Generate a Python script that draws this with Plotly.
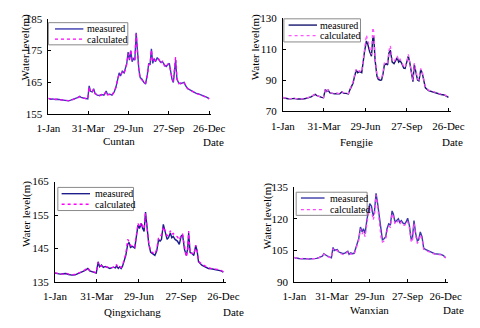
import plotly.graph_objects as go

# ---------------- data ----------------
tick_days = [1, 90, 180, 270, 360]
tick_labels = ["1-Jan", "31-Mar", "29-Jun", "27-Sep", "26-Dec"]

cuntan_days = [1, 6, 11, 16, 21, 26, 31, 36, 41, 46, 51, 56, 61, 66, 71, 74, 79, 84, 89, 92, 95, 99, 102, 105, 110, 115, 120, 125, 130, 133, 138, 143, 148, 152, 156, 159, 162, 166, 170, 173, 176, 179, 182, 185, 188, 191, 194, 197, 200, 203, 206, 210, 214, 218, 222, 225, 228, 231, 234, 237, 240, 244, 248, 252, 256, 260, 264, 268, 271, 274, 277, 280, 283, 285, 288, 292, 296, 300, 304, 308, 312, 318, 324, 330, 336, 342, 348, 354, 360]
cuntan_measured = [160.0, 159.7, 159.8, 159.6, 159.7, 159.6, 159.5, 159.4, 159.3, 159.2, 159.4, 159.6, 160.0, 160.2, 160.6, 160.3, 160.1, 159.9, 159.8, 163.9, 162.2, 162.0, 163.0, 161.6, 161.0, 160.9, 161.2, 161.0, 162.3, 161.2, 161.3, 161.0, 162.0, 163.6, 166.0, 168.0, 167.0, 168.5, 168.0, 169.5, 171.0, 174.5, 172.0, 175.0, 171.5, 172.5, 172.0, 180.6, 173.0, 169.0, 166.5, 166.0, 165.0, 164.5, 167.5, 171.0, 170.5, 175.6, 171.0, 172.5, 171.5, 172.8, 172.0, 171.3, 171.5, 170.5, 170.0, 170.5, 171.0, 168.5, 166.0, 165.0, 170.0, 172.0, 166.0, 164.8, 164.6, 164.8, 165.0, 163.8, 163.0, 162.6, 162.0, 161.6, 161.4, 161.1, 160.8, 160.4, 159.9]
cuntan_calculated = [160.0, 159.8, 159.7, 159.7, 159.6, 159.6, 159.5, 159.5, 159.2, 159.3, 159.3, 159.7, 159.9, 160.1, 160.5, 160.2, 160.0, 159.8, 159.8, 163.6, 162.0, 162.1, 162.8, 161.5, 161.0, 160.8, 161.1, 160.9, 162.1, 161.1, 161.2, 160.9, 162.2, 163.4, 166.3, 167.5, 167.3, 168.2, 167.8, 169.0, 170.8, 174.0, 172.3, 175.3, 171.8, 172.0, 172.2, 180.3, 172.5, 168.8, 166.2, 165.8, 164.8, 164.8, 167.2, 170.5, 170.8, 175.2, 171.5, 172.0, 171.8, 172.5, 172.3, 171.0, 171.8, 170.2, 169.8, 170.8, 170.5, 168.2, 166.5, 165.3, 171.0, 173.0, 166.3, 164.6, 164.8, 164.5, 164.9, 163.6, 163.1, 162.4, 162.1, 161.5, 161.3, 161.0, 160.7, 160.3, 159.8]

fengjie_days = [1, 6, 12, 18, 22, 26, 32, 38, 44, 50, 56, 62, 67, 71, 75, 80, 85, 89, 93, 96, 99, 103, 108, 113, 118, 124, 129, 133, 138, 143, 146, 150, 153, 156, 160, 163, 167, 172, 175, 178, 182, 185, 189, 193, 196, 198, 201, 205, 208, 212, 215, 218, 221, 225, 228, 231, 234, 238, 242, 245, 249, 252, 255, 259, 263, 266, 270, 273, 276, 279, 283, 286, 289, 293, 296, 300, 303, 307, 310, 317, 324, 331, 338, 344, 351, 356, 360]
fengjie_measured = [78.8, 78.3, 78.1, 78.0, 78.4, 78.3, 77.9, 77.8, 77.9, 78.2, 78.6, 79.3, 80.2, 80.9, 80.0, 79.3, 78.9, 78.7, 84.1, 82.8, 83.6, 81.8, 81.4, 81.2, 81.4, 81.2, 82.4, 81.6, 81.5, 81.2, 83.6, 86.5, 88.0, 92.0, 96.5, 94.8, 95.5, 94.8, 103.5, 108.3, 115.1, 113.2, 108.3, 105.4, 117.0, 118.0, 102.5, 92.5, 90.5, 90.0, 90.2, 93.8, 99.6, 100.6, 99.8, 107.4, 109.3, 101.6, 100.6, 102.5, 104.5, 101.6, 102.5, 100.6, 97.7, 97.5, 101.6, 105.4, 101.6, 94.8, 89.0, 100.0, 95.0, 90.0, 89.5, 96.7, 94.8, 88.0, 85.1, 83.2, 82.6, 81.6, 81.2, 80.8, 80.5, 79.8, 78.9]
fengjie_calculated = [78.9, 78.4, 78.2, 78.1, 78.5, 78.2, 78.0, 77.9, 78.0, 78.3, 78.7, 79.4, 80.4, 81.0, 80.1, 79.4, 79.0, 78.8, 84.4, 83.0, 83.8, 82.0, 81.6, 81.3, 81.6, 81.4, 82.6, 81.8, 81.7, 81.4, 84.0, 87.2, 89.0, 93.0, 97.0, 95.5, 96.0, 95.2, 104.5, 110.0, 119.0, 115.5, 109.5, 106.5, 123.8, 121.0, 104.0, 93.5, 91.5, 91.0, 91.0, 95.0, 101.0, 101.5, 101.0, 109.0, 112.2, 103.0, 101.5, 103.5, 105.5, 102.5, 103.5, 101.5, 98.5, 98.2, 102.0, 106.5, 102.0, 95.5, 89.8, 101.0, 95.5, 90.8, 90.2, 97.5, 95.5, 88.8, 85.6, 83.6, 82.9, 81.9, 81.5, 81.0, 80.7, 80.0, 79.2]

qingxichang_days = [1, 6, 12, 18, 24, 30, 37, 44, 50, 56, 62, 67, 71, 75, 80, 85, 89, 93, 96, 100, 104, 108, 112, 118, 125, 130, 132, 136, 139, 142, 145, 149, 152, 156, 159, 162, 166, 171, 174, 178, 181, 185, 188, 191, 194, 198, 201, 205, 209, 214, 218, 222, 225, 228, 232, 236, 240, 243, 247, 250, 253, 257, 262, 266, 270, 273, 277, 281, 284, 286, 289, 294, 297, 301, 304, 307, 314, 321, 328, 334, 341, 348, 355, 360]
qingxichang_measured = [137.6, 137.4, 137.3, 137.4, 137.5, 137.2, 137.0, 137.1, 137.4, 137.8, 138.2, 138.6, 139.0, 138.3, 138.0, 137.8, 137.6, 141.0, 139.5, 140.0, 139.3, 139.6, 139.3, 139.0, 139.4, 139.2, 139.8, 139.0, 139.5, 139.0, 139.7, 141.4, 142.9, 146.2, 146.8, 145.3, 145.6, 145.1, 148.2, 152.0, 151.0, 152.5, 151.0, 150.1, 155.9, 150.0, 146.2, 143.8, 143.4, 142.9, 144.3, 147.7, 147.2, 147.7, 152.2, 149.6, 147.7, 148.2, 149.6, 148.2, 148.6, 147.7, 147.2, 146.2, 148.7, 149.1, 144.8, 142.9, 145.0, 149.6, 143.8, 143.4, 142.9, 145.8, 144.3, 141.0, 140.0, 139.5, 139.0, 138.9, 138.7, 138.6, 138.3, 137.9]
qingxichang_calculated = [137.7, 137.5, 137.4, 137.3, 137.6, 137.3, 137.1, 137.2, 137.5, 137.9, 138.3, 138.8, 139.2, 138.4, 138.1, 137.9, 137.7, 140.8, 139.7, 139.8, 139.5, 139.4, 139.5, 139.2, 139.3, 139.5, 140.2, 139.2, 139.4, 139.3, 139.9, 141.8, 143.4, 147.7, 147.0, 145.8, 146.0, 145.5, 148.8, 152.5, 151.3, 152.8, 151.5, 150.8, 155.5, 150.5, 146.5, 144.2, 143.8, 143.3, 144.8, 148.5, 148.8, 149.0, 151.5, 150.2, 148.8, 149.0, 150.3, 149.2, 149.5, 148.8, 148.5, 147.5, 149.0, 149.3, 145.5, 142.5, 144.5, 150.2, 143.5, 143.6, 143.2, 146.0, 144.6, 141.2, 140.3, 139.7, 139.2, 139.0, 138.9, 138.7, 138.4, 138.0]

wanxian_days = [1, 6, 12, 18, 24, 30, 36, 42, 48, 54, 60, 64, 68, 71, 75, 80, 85, 89, 93, 96, 99, 103, 107, 112, 117, 122, 128, 131, 135, 139, 143, 147, 150, 154, 158, 162, 165, 169, 173, 176, 180, 184, 188, 191, 195, 199, 203, 207, 210, 214, 218, 221, 225, 229, 233, 236, 240, 244, 248, 251, 255, 259, 263, 266, 270, 274, 278, 281, 285, 289, 293, 296, 300, 304, 308, 312, 319, 326, 334, 341, 349, 355, 360]
wanxian_measured = [101.5, 101.2, 101.1, 101.0, 101.1, 101.0, 100.9, 101.0, 101.0, 101.2, 101.6, 102.0, 102.3, 103.4, 102.8, 102.2, 101.8, 101.5, 106.4, 104.9, 105.2, 105.4, 104.2, 103.8, 103.4, 103.8, 104.6, 103.1, 103.8, 103.4, 103.6, 106.1, 108.4, 110.7, 116.1, 113.8, 115.3, 113.0, 119.2, 123.0, 127.3, 126.1, 121.5, 123.0, 132.2, 126.9, 120.0, 112.3, 110.0, 110.5, 111.5, 115.3, 117.6, 117.0, 123.8, 122.3, 118.4, 119.2, 120.0, 118.4, 119.2, 118.0, 117.6, 118.4, 120.3, 116.9, 110.7, 110.0, 119.2, 113.0, 109.5, 110.0, 113.8, 111.5, 106.1, 105.4, 104.6, 104.2, 103.4, 103.2, 103.1, 102.5, 101.5]
wanxian_calculated = [101.6, 101.3, 101.0, 101.1, 101.2, 100.9, 101.0, 101.1, 100.9, 101.1, 101.5, 101.9, 102.2, 103.2, 102.6, 102.0, 101.7, 101.4, 105.8, 104.6, 104.8, 105.0, 103.8, 103.4, 103.0, 103.4, 104.2, 102.8, 103.4, 103.0, 103.2, 105.5, 107.8, 110.0, 115.2, 112.8, 114.0, 111.5, 117.5, 121.5, 126.0, 124.5, 119.5, 121.5, 131.5, 125.5, 118.5, 111.0, 109.0, 109.5, 110.5, 114.0, 116.5, 116.0, 122.5, 121.0, 117.5, 118.0, 119.2, 117.5, 118.5, 117.2, 117.0, 117.8, 118.8, 116.0, 109.5, 108.8, 118.0, 112.0, 108.5, 109.0, 112.5, 110.5, 105.5, 105.0, 104.3, 103.9, 103.2, 103.0, 102.9, 102.3, 101.4]

# layout positions below are screen pixels of the 480x328 window
panels = [
    dict(name="Cuntan", days=cuntan_days, meas=cuntan_measured, calc=cuntan_calculated,
         yt=[155, 165, 175, 185], xpx=(38, 210.4), ypx=(13, 112),
         mcol="#3b3bb0", ccol="#ff00ff",
         ytitle=(14, 43), sub=(113, 140), date=(213, 141),
         leg=dict(box=(38, 17, 122, 40), lx=(45, 75), ly=(23.5, 34), tx=77)),
    dict(name="Fengjie", days=fengjie_days, meas=fengjie_measured, calc=fengjie_calculated,
         yt=[70, 90, 110, 130], xpx=(286, 463.4), ypx=(12, 109),
         mcol="#16166e", ccol="#ff55ff",
         ytitle=(257, 43), sub=(364, 141), date=(465, 141),
         leg=dict(box=(287, 13, 368, 37), lx=(292, 322), ly=(19.5, 30.5), tx=323)),
    dict(name="Qingxichang", days=qingxichang_days, meas=qingxichang_measured, calc=qingxichang_calculated,
         yt=[135, 145, 155, 165], xpx=(45, 225.5), ypx=(182, 286),
         mcol="#1c1c8a", ccol="#ff00ff",
         ytitle=(15, 216), sub=(127, 317), date=(234, 317),
         leg=dict(box=(48, 188, 128, 212), lx=(52, 82), ly=(194.5, 205.5), tx=85)),
    dict(name="Wanxian", days=wanxian_days, meas=wanxian_measured, calc=wanxian_calculated,
         yt=[90, 105, 120, 135], xpx=(298, 460.2), ypx=(188, 286),
         mcol="#3a3aa8", ccol="#ff44ff",
         ytitle=(270, 218), sub=(377, 315), date=(466, 315),
         leg=dict(box=(300, 193, 375, 217), lx=(305, 330), ly=(199, 211), tx=334)),
]

W, H = 480, 328
OFF = 8  # page body margin offsets the figure by 8px
FONT = "Times New Roman, Liberation Serif, serif"


def px(x):
    return min(1.0, max(0.0, (x - OFF) / W))


def py(y):
    return min(1.0, max(0.0, 1 - (y - OFF) / H))


fig = go.Figure()
shapes = []
annots = []


def label(x, y, text, size=11, angle=0, xanchor="center"):
    annots.append(dict(x=px(x), y=py(y), xref="paper", yref="paper", text=text,
                       textangle=angle, showarrow=False, xanchor=xanchor, yanchor="middle",
                       font=dict(family=FONT, size=size, color="#000")))


for i, p in enumerate(panels):
    k = "" if i == 0 else str(i + 1)
    xa, ya = "x" + k, "y" + k
    fig.add_trace(go.Scatter(x=p["days"], y=p["meas"], mode="lines", name="measured",
                             line=dict(color=p["mcol"], width=1.4), xaxis=xa, yaxis=ya,
                             showlegend=False))
    fig.add_trace(go.Scatter(x=p["days"], y=p["calc"], mode="lines", name="calculated",
                             line=dict(color=p["ccol"], width=1.3, dash="dot"), xaxis=xa, yaxis=ya,
                             showlegend=False))
    axis_common = dict(showline=True, linecolor="#000", linewidth=1, ticks="inside",
                       ticklen=3, tickcolor="#000", showgrid=False, zeroline=False,
                       tickfont=dict(family=FONT, size=11, color="#000"))
    fig.update_layout(**{
        "xaxis" + k: dict(domain=[px(p["xpx"][0]), px(p["xpx"][1])], range=[1, 365],
                          tickvals=tick_days, ticktext=tick_labels, anchor=ya,
                          ticklabelstandoff=4, **axis_common),
        "yaxis" + k: dict(domain=[py(p["ypx"][1]), py(p["ypx"][0])],
                          range=[p["yt"][0], p["yt"][-1]], tickvals=p["yt"], anchor=xa,
                          ticklabelstandoff=3, **axis_common),
    })
    label(p["ytitle"][0], p["ytitle"][1], "Water level(m)", angle=-90)
    label(p["sub"][0], p["sub"][1], p["name"])
    label(p["date"][0], p["date"][1], "Date")
    lg = p["leg"]
    x0, y0, x1, y1 = lg["box"]
    shapes.append(dict(type="rect", xref="paper", yref="paper", x0=px(x0), x1=px(x1),
                       y0=py(y1), y1=py(y0), line=dict(color="#8a8a8a", width=1),
                       fillcolor="white", layer="above"))
    shapes.append(dict(type="line", xref="paper", yref="paper", x0=px(lg["lx"][0]), x1=px(lg["lx"][1]),
                       y0=py(lg["ly"][0]), y1=py(lg["ly"][0]),
                       line=dict(color=p["mcol"], width=1.4), layer="above"))
    shapes.append(dict(type="line", xref="paper", yref="paper", x0=px(lg["lx"][0]), x1=px(lg["lx"][1]),
                       y0=py(lg["ly"][1]), y1=py(lg["ly"][1]),
                       line=dict(color=p["ccol"], width=1.3, dash="dot"), layer="above"))
    label(lg["tx"], lg["ly"][0], "measured", size=10, xanchor="left")
    label(lg["tx"], lg["ly"][1], "calculated", size=10, xanchor="left")

fig.update_layout(width=W, height=H, margin=dict(l=0, r=0, t=0, b=0),
                  paper_bgcolor="white", plot_bgcolor="white", showlegend=False,
                  font=dict(family=FONT, size=11, color="#000"),
                  shapes=shapes, annotations=annots)

fig.write_html("out.html")
